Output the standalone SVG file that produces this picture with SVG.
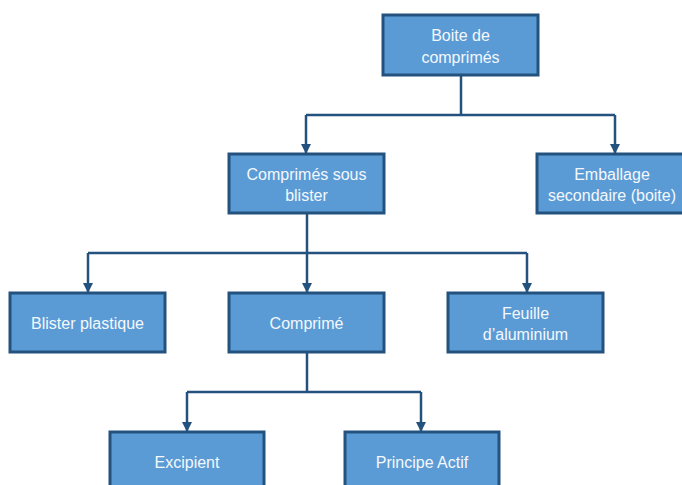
<svg xmlns="http://www.w3.org/2000/svg" width="682" height="485" viewBox="0 0 682 485">
<defs>
<style>
.box{fill:#5B9BD5;stroke:#24527F;stroke-width:3}
.t{font-family:"Liberation Sans",Arial,sans-serif;font-size:16px;fill:#F4F8FC;text-anchor:middle}
.c{fill:none;stroke:#24527F;stroke-width:2.5}
</style>
<marker id="a" viewBox="0 0 10 10" refX="9" refY="5" markerWidth="4" markerHeight="4" orient="auto" markerUnits="strokeWidth">
<path d="M0,0 L10,5 L0,10 z" fill="#24527F"/>
</marker>
</defs>
<rect width="682" height="485" fill="#FFFFFF"/>
<g id="connectors">
<path class="c" d="M461,75 V115"/>
<path class="c" d="M306,115 H615"/>
<path class="c" d="M306,115 V153" marker-end="url(#a)"/>
<path class="c" d="M615,115 V153" marker-end="url(#a)"/>
<path class="c" d="M307,213 V253"/>
<path class="c" d="M88,253 H527"/>
<path class="c" d="M88,253 V292" marker-end="url(#a)"/>
<path class="c" d="M307,253 V292" marker-end="url(#a)"/>
<path class="c" d="M527,253 V292" marker-end="url(#a)"/>
<path class="c" d="M307,352 V392"/>
<path class="c" d="M187,392 H421"/>
<path class="c" d="M187,392 V431" marker-end="url(#a)"/>
<path class="c" d="M421,392 V431" marker-end="url(#a)"/>
</g>
<g id="n1"><rect class="box" x="383" y="15" width="155" height="60"/><text class="t" x="460.5" y="40.5">Boite de</text><text class="t" x="460.5" y="62.5">comprimés</text></g>
<g id="n2"><rect class="box" x="229" y="154" width="155" height="59"/><text class="t" x="306.5" y="179.5">Comprimés sous</text><text class="t" x="306.5" y="201">blister</text></g>
<g id="n3"><rect class="box" x="537" y="154" width="155" height="59"/><text class="t" x="612" y="179.5">Emballage</text><text class="t" x="612" y="201">secondaire (boite)</text></g>
<g id="n4"><rect class="box" x="10" y="293" width="155" height="59"/><text class="t" x="87.5" y="328.5">Blister plastique</text></g>
<g id="n5"><rect class="box" x="229" y="293" width="155" height="59"/><text class="t" x="306.5" y="328.5">Comprimé</text></g>
<g id="n6"><rect class="box" x="448" y="293" width="155" height="59"/><text class="t" x="525.5" y="318.5">Feuille</text><text class="t" x="525.5" y="340">d’aluminium</text></g>
<g id="n7"><rect class="box" x="110" y="432" width="154" height="60"/><text class="t" x="187" y="468">Excipient</text></g>
<g id="n8"><rect class="box" x="345" y="432" width="154" height="60"/><text class="t" x="422" y="468">Principe Actif</text></g>
</svg>
